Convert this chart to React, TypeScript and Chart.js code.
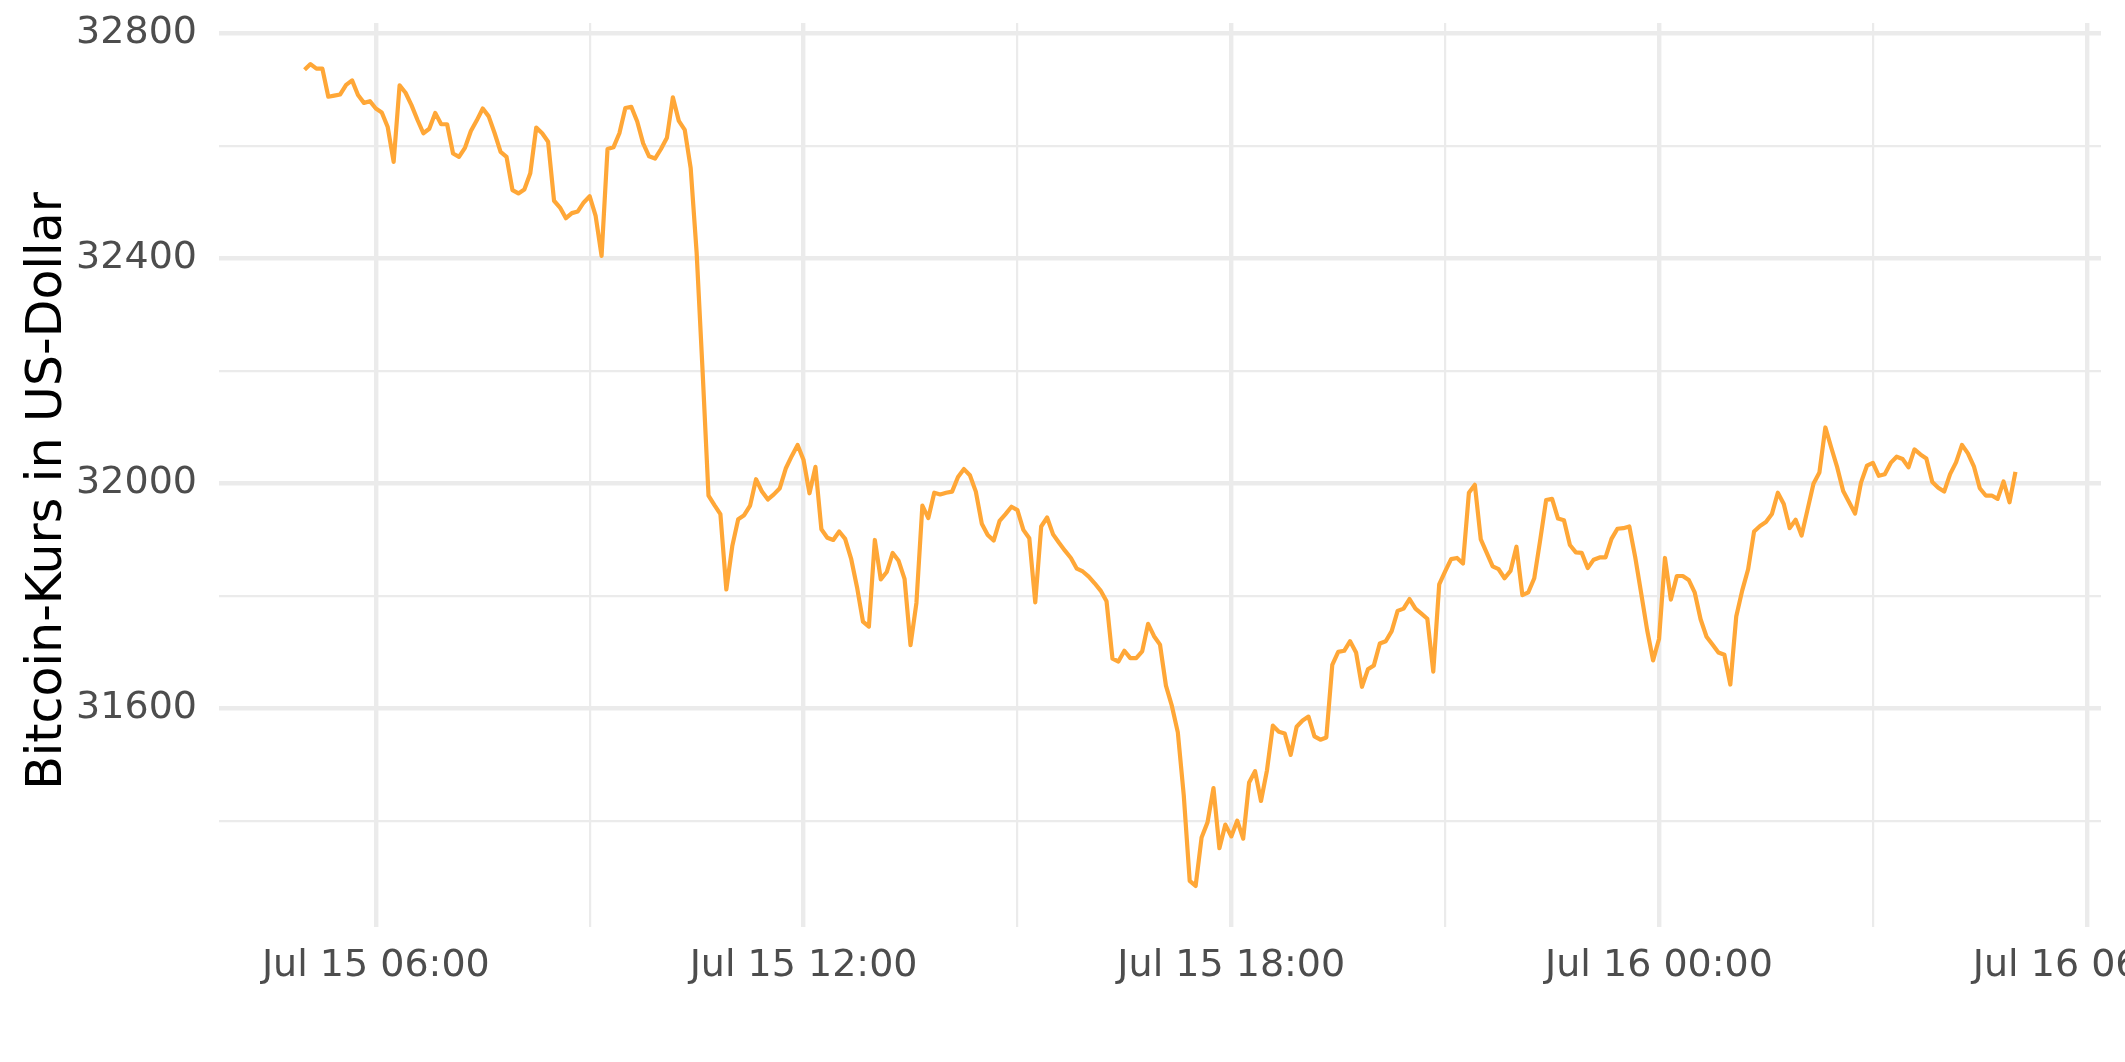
import React, { useEffect, useRef } from 'react';
import { Chart, registerables } from 'chart.js';

Chart.register(...registerables);

// Time axis: hours since Jul 15 00:00; one observation every 5 minutes from Jul 15 05:00
const START_HOUR = 5;
const STEP_MINUTES = 5;

// Bitcoin price (USD), Jul 15 05:00 - 10:55
const PRICES_A = [
  32735, 32745, 32737, 32737, 32687, 32689, 32691, 32708, 32716, 32690, 32676, 32679,
  32666, 32659, 32633, 32571, 32707, 32694, 32672, 32646, 32622, 32630, 32658, 32638,
  32638, 32586, 32580, 32596, 32626, 32645, 32666, 32652, 32622, 32589, 32580, 32521,
  32515, 32522, 32551, 32632, 32622, 32607, 32502, 32490, 32471, 32480, 32483, 32499,
  32510, 32475, 32404, 32594, 32597, 32622, 32667, 32669, 32643, 32604, 32581, 32577,
  32594, 32614, 32686, 32644, 32628, 32560, 32410, 32200, 31978, 31961, 31945, 31811,
];
// Jul 15 11:00 - 16:55
const PRICES_B = [
  31888, 31936, 31943, 31960, 32007, 31985, 31971, 31980, 31991, 32026, 32048, 32068,
  32041, 31982, 32029, 31918, 31903, 31899, 31914, 31901, 31866, 31815, 31754, 31745,
  31899, 31829, 31842, 31876, 31862, 31830, 31712, 31787, 31960, 31938, 31983, 31980,
  31983, 31985, 32011, 32025, 32014, 31985, 31928, 31908, 31898, 31933, 31945, 31958,
  31952, 31917, 31902, 31788, 31923, 31939, 31909, 31894, 31880, 31867, 31848, 31843,
  31834, 31822, 31809, 31790, 31688, 31683, 31702, 31689, 31689, 31701, 31750, 31728,
];
// Jul 15 17:00 - 22:55
const PRICES_C = [
  31713, 31640, 31604, 31557, 31445, 31293, 31284, 31370, 31397, 31458, 31351, 31393,
  31372, 31400, 31368, 31468, 31488, 31435, 31489, 31569, 31558, 31555, 31517, 31567,
  31578, 31585, 31550, 31544, 31548, 31677, 31700, 31702, 31719, 31699, 31638, 31669,
  31676, 31715, 31719, 31737, 31773, 31777, 31794, 31777, 31768, 31759, 31665, 31820,
  31843, 31865, 31867, 31857, 31983, 31997, 31900, 31876, 31852, 31847, 31831, 31844,
  31887, 31801, 31806, 31831, 31899, 31970, 31972, 31937, 31934, 31890, 31877, 31876,
];
// Jul 15 23:00 - Jul 16 05:00
const PRICES_D = [
  31849, 31864, 31868, 31868, 31901, 31919, 31920, 31923, 31868, 31804, 31739, 31685,
  31723, 31867, 31793, 31835, 31835, 31828, 31806, 31758, 31727, 31713, 31699, 31695,
  31642, 31763, 31809, 31847, 31914, 31924, 31931, 31945, 31983, 31963, 31920, 31935,
  31907, 31953, 31999, 32019, 32099, 32063, 32028, 31986, 31966, 31946, 32001, 32031,
  32036, 32013, 32016, 32036, 32047, 32043, 32028, 32060, 32051, 32044, 32002, 31992,
  31985, 32016, 32037, 32068, 32053, 32030, 31991, 31978, 31978, 31972, 32003, 31966,
  32020,
];

const X_TICKS = [6, 9, 12, 15, 18, 21, 24, 27, 30];
const X_LABELS = ['Jul 15 06:00', '', 'Jul 15 12:00', '', 'Jul 15 18:00', '', 'Jul 16 00:00', '', 'Jul 16 06:00'];
const Y_TICKS = [31400, 31600, 31800, 32000, 32200, 32400, 32600, 32800];
const Y_LABELS = ['', '31600', '', '32000', '', '32400', '', '32800'];

const X_MIN = 3.8;
const X_MAX = 30.2;
const Y_MIN = 31211;
const Y_MAX = 32818;

const Y_TITLE = 'Bitcoin-Kurs in US-Dollar';
const LINE_COLOR = 'rgb(255, 167, 55)';
const GRID_COLOR = '#EBEBEB';
const FONT = 'DejaVu Sans';

// Draws the rotated y-axis title beside the plot panel
const yTitlePlugin = {
  id: 'yTitle',
  afterDraw(chart: any) {
    const { ctx, chartArea } = chart;
    const cy = (chartArea.top + chartArea.bottom) / 2 + 16;
    ctx.save();
    ctx.translate(48, cy);
    ctx.rotate(-Math.PI / 2);
    ctx.font = `49px "${FONT}"`;
    ctx.fillStyle = '#000000';
    ctx.textAlign = 'center';
    ctx.textBaseline = 'middle';
    ctx.fillText(Y_TITLE, 0, 0);
    ctx.restore();
  },
};

export default function App() {
  const canvasRef = useRef<HTMLCanvasElement | null>(null);

  useEffect(() => {
    const canvas = canvasRef.current;
    if (!canvas) return;
    const prices = [...PRICES_A, ...PRICES_B, ...PRICES_C, ...PRICES_D];
    const points = prices.map((v, i) => ({ x: START_HOUR + (i * STEP_MINUTES) / 60, y: v }));

    const chart = new Chart(canvas, {
      type: 'line',
      data: {
        datasets: [
          {
            data: points,
            borderColor: LINE_COLOR,
            borderWidth: 4.2,
            pointRadius: 0,
            tension: 0,
            fill: false,
            borderJoinStyle: 'round',
            borderCapStyle: 'butt',
          },
        ],
      },
      plugins: [yTitlePlugin],
      options: {
        animation: false,
        responsive: false,
        devicePixelRatio: 1,
        layout: { padding: { left: 0, top: 23, right: 24, bottom: 0 } },
        plugins: { legend: { display: false }, tooltip: { enabled: false } },
        scales: {
          x: {
            type: 'linear',
            min: X_MIN,
            max: X_MAX,
            afterBuildTicks: (scale: any) => {
              scale.ticks = X_TICKS.map((v) => ({ value: v }));
            },
            afterFit: (scale: any) => {
              scale.height = 135;
              scale.paddingLeft = 0;
              scale.paddingRight = 0;
            },
            border: { display: false },
            grid: {
              color: GRID_COLOR,
              lineWidth: (ctx: any) => (X_LABELS[ctx.index] ? 4.4 : 2.2),
              drawTicks: false,
            },
            ticks: {
              autoSkip: false,
              maxRotation: 0,
              minRotation: 0,
              padding: 16,
              color: '#4D4D4D',
              font: { family: FONT, size: 38 },
              callback: (_v: any, i: number) => X_LABELS[i],
            },
          },
          y: {
            type: 'linear',
            min: Y_MIN,
            max: Y_MAX,
            afterBuildTicks: (scale: any) => {
              scale.ticks = Y_TICKS.map((v) => ({ value: v }));
            },
            afterFit: (scale: any) => {
              scale.width = 219;
              scale.paddingTop = 0;
              scale.paddingBottom = 0;
            },
            border: { display: false },
            grid: {
              color: GRID_COLOR,
              lineWidth: (ctx: any) => (Y_LABELS[ctx.index] ? 4.4 : 2.2),
              drawTicks: false,
            },
            ticks: {
              autoSkip: false,
              padding: 22,
              color: '#4D4D4D',
              font: { family: FONT, size: 38 },
              callback: (_v: any, i: number) => Y_LABELS[i],
            },
          },
        },
      },
    });

    return () => chart.destroy();
  }, []);

  return (
    <div style={{ position: 'fixed', left: 0, top: 0, width: 2125, height: 1062, background: '#ffffff' }}>
      <canvas ref={canvasRef} width={2125} height={1062} style={{ display: 'block' }} />
    </div>
  );
}
